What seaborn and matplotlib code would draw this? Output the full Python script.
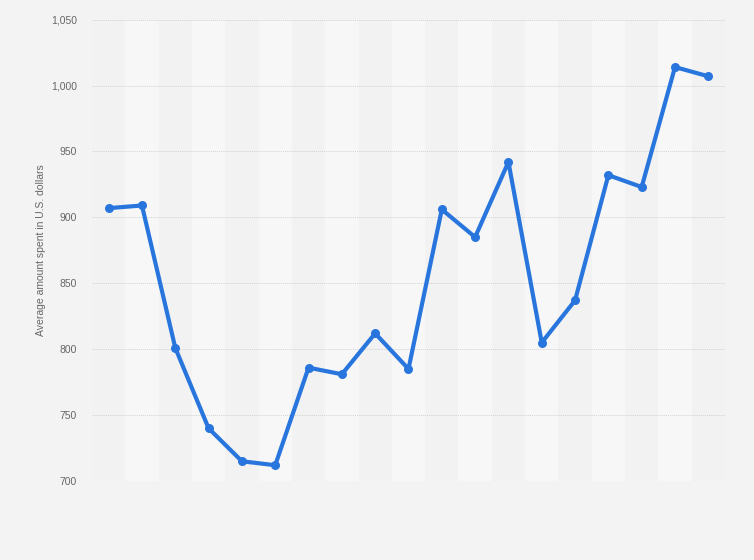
import matplotlib
matplotlib.use("Agg")
import matplotlib.pyplot as plt
import pandas as pd
import seaborn as sns
from matplotlib.ticker import FuncFormatter

# values (no x labels shown)
periods = list(range(1, 20))
amount_spent = [907, 909, 801, 740, 715, 712, 786, 781, 812, 785,
                906, 885, 942, 805, 837, 932, 923, 1014, 1007]
y_ticks = [700, 750, 800, 850, 900, 950, 1000, 1050]

df = pd.DataFrame({"period": periods, "amount": amount_spent})

sns.set_theme(style="white")
plt.rcParams['font.family'] = ['Liberation Sans', 'DejaVu Sans']

fig = plt.figure(figsize=(7.54, 5.6), dpi=100)
fig.patch.set_facecolor("#f3f3f3")
ax = fig.add_axes([0.122, 0.141, 0.8395, 0.824])
ax.set_facecolor("#f2f2f2")

# alternating column bands
for i, p in enumerate(periods):
    if i % 2 == 1:
        ax.axvspan(p - 0.5, p + 0.5, color="#f7f7f7", zorder=0, lw=0)

sns.lineplot(data=df, x="period", y="amount", ax=ax, color="#2876dd",
             linewidth=3, marker="o", markersize=6.5, markeredgewidth=0, zorder=3)

ax.set_xlim(0.5, 19.5)
ax.set_ylim(700, 1050)
ax.set_yticks(y_ticks)
ax.yaxis.set_major_formatter(FuncFormatter(lambda v, _: f"{int(v):,}"))
ax.set_xticks([])
ax.grid(axis="y", color="#d2d2d2", linestyle=(0, (1, 1)), linewidth=0.7)
ax.set_axisbelow(True)
for s in ax.spines.values():
    s.set_visible(False)
ax.tick_params(axis="y", length=0, pad=11, labelsize=7.5, labelcolor="#666666")

ax.set_xlabel("")
ax.set_ylabel("Average amount spent in U.S. dollars", fontsize=7.5, color="#666666")
ax.yaxis.set_label_coords(-0.073, 0.5)

fig.savefig("out.png", dpi=100, facecolor=fig.get_facecolor())
